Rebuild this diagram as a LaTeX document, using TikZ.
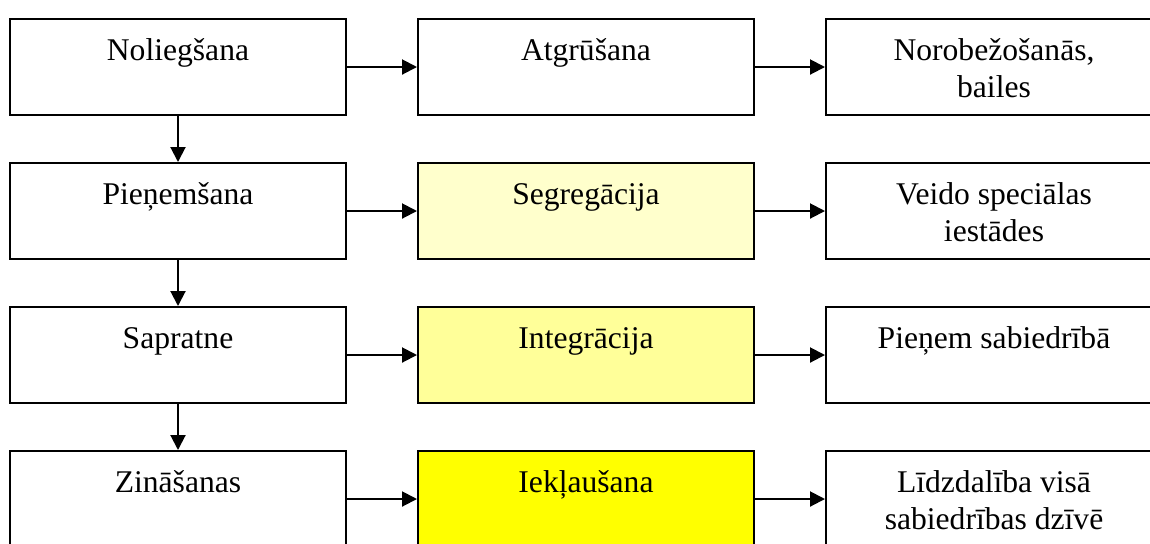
\documentclass[tikz,border=0pt]{standalone}
\usepackage{fontspec}
\setmainfont{Liberation Serif}
\usetikzlibrary{arrows.meta}
\definecolor{lightyellow}{HTML}{FFFFCC}
\definecolor{midyellow}{HTML}{FFFF99}
\definecolor{fullyellow}{HTML}{FFFF00}
\begin{document}
\begin{tikzpicture}[x=0.5pt,y=-0.5pt,
  stage/.style={draw=black, line width=1pt, minimum width=168pt, minimum height=48pt,
    inner sep=0pt, text height=20.5pt, text depth=27.5pt, align=center,
    font=\fontsize{15.8}{18.5}\selectfont},
  twoline/.style={text height=39pt, text depth=9pt},
  link/.style={line width=1pt, -{Triangle[length=7.5pt,width=7.5pt]}}]
\useasboundingbox (0,0) rectangle (1150,543);
\clip (0,0) rectangle (1150,543);
% left column: stages of attitude
\node[stage] (a1) at (178,67) {Noliegšana};
\node[stage] (a2) at (178,211) {Pieņemšana};
\node[stage] (a3) at (178,355) {Sapratne};
\node[stage] (a4) at (178,499) {Zināšanas};
% middle column: societal approach
\node[stage] (b1) at (586,67) {Atgrūšana};
\node[stage, fill=lightyellow] (b2) at (586,211) {Segregācija};
\node[stage, fill=midyellow] (b3) at (586,355) {Integrācija};
\node[stage, fill=fullyellow] (b4) at (586,499) {Iekļaušana};
% right column: consequences
\node[stage, twoline] (c1) at (994,67) {Norobežošanās,\\ bailes};
\node[stage, twoline] (c2) at (994,211) {Veido speciālas\\ iestādes};
\node[stage] (c3) at (994,355) {Pieņem sabiedrībā};
\node[stage, twoline] (c4) at (994,499) {Līdzdalība visā\\ sabiedrības dzīvē};
% connectors
\foreach \r in {1,2,3,4} {
  \draw[link] (a\r) -- (b\r);
  \draw[link] (b\r) -- (c\r);
}
\draw[link] (a1) -- (a2);
\draw[link] (a2) -- (a3);
\draw[link] (a3) -- (a4);
\end{tikzpicture}
\end{document}
